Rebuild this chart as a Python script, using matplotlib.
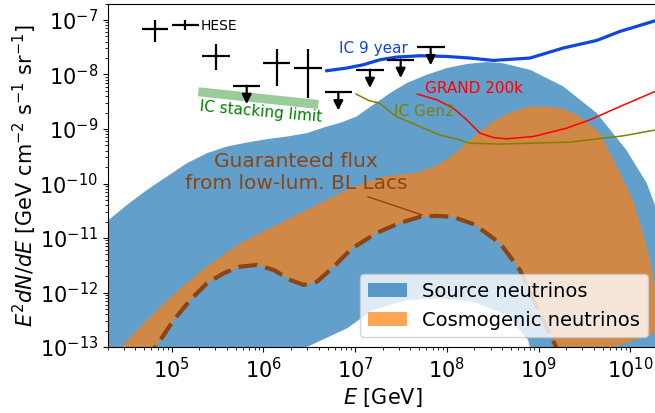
import numpy as np
import matplotlib
matplotlib.use("Agg")
import matplotlib.pyplot as plt
from matplotlib.patches import Patch

# ---------------- data (log10 values) ----------------
# Source neutrino envelope: upper edge
src_up_logE = [4.25, 4.313, 4.513, 4.731, 4.949, 5.167, 5.385, 5.603, 5.821, 6.039, 6.257, 6.475,
               6.694, 6.850, 7.017, 7.198, 7.381, 7.563, 7.781, 7.999, 8.217, 8.435, 8.600, 8.907,
               9.270, 9.635, 9.957, 10.180, 10.35]
src_up_logF = [-10.75, -10.668, -10.392, -10.117, -9.872, -9.626, -9.443, -9.321, -9.248, -9.186,
               -9.138, -9.075, -8.954, -8.880, -8.770, -8.556, -8.341, -8.157, -8.005, -7.882,
               -7.808, -7.771, -7.790, -7.913, -8.219, -8.708, -9.382, -9.994, -10.75]
# Source neutrino envelope: lower edge (right to left)
src_lo_logE = [10.35, 10.35, 9.0, 8.95, 8.886, 8.653, 8.286, 7.926, 7.563, 7.195, 6.912, 6.475, 6.42, 6.35, 4.25]
src_lo_logF = [-10.75, -14.0, -14.0, -13.3, -12.87, -12.412, -12.168, -12.106, -12.137, -12.32, -12.657,
               -13.0, -13.3, -14.0, -14.0]

# Cosmogenic neutrino band: upper edge
cos_up_logE = [4.30, 4.439, 4.658, 4.876, 5.094, 5.312, 5.530, 5.748, 5.966, 6.184, 6.402, 6.621,
               6.912, 7.305, 7.672, 7.850, 7.999, 8.108, 8.217, 8.362, 8.507, 8.653, 8.798, 8.943,
               9.089, 9.234, 9.343, 9.450, 9.668, 9.853, 10.030, 10.139, 10.234, 10.27, 10.35]
cos_up_logF = [-13.25, -13.018, -12.627, -12.260, -11.922, -11.617, -11.342, -11.096, -10.912,
               -10.728, -10.545, -10.361, -10.117, -9.872, -9.80, -9.70, -9.56, -9.42, -9.259,
               -9.046, -8.862, -8.726, -8.635, -8.587, -8.587, -8.616, -8.679, -8.771, -9.071,
               -9.689, -10.300, -10.906, -11.525, -11.89, -12.7]

# Guaranteed flux from low-luminosity BL Lacs (lower edge of cosmogenic band)
bl_logE = [4.70, 4.840, 5.022, 5.203, 5.385, 5.567, 5.748, 5.930, 6.112, 6.293, 6.439, 6.585, 6.767,
           6.912, 6.977, 7.236, 7.490, 7.708, 7.890, 8.068, 8.30, 8.580, 8.798, 8.980, 9.18, 9.30]
bl_logF = [-13.25, -12.963, -12.504, -12.137, -11.830, -11.646, -11.525, -11.494, -11.586, -11.770,
           -11.861, -11.801, -11.525, -11.279, -11.180, -10.906, -10.723, -10.613, -10.594, -10.613,
           -10.75, -11.095, -11.586, -12.26, -12.96, -13.3]

# IceCube 9-year limit
ic9_logE = [6.690, 6.908, 7.089, 7.272, 7.454, 7.708, 7.999, 8.253, 8.507, 8.907, 9.270, 9.635, 9.889, 10.30]
ic9_logF = [-7.931, -7.882, -7.821, -7.729, -7.680, -7.656, -7.669, -7.698, -7.742, -7.698, -7.514,
            -7.375, -7.209, -7.00]

# GRAND 200k sensitivity
grand_logE = [7.678, 7.890, 8.071, 8.217, 8.362, 8.507, 8.653, 8.943, 9.306, 9.561, 9.889, 10.30]
grand_logF = [-8.359, -8.464, -8.617, -8.831, -9.077, -9.157, -9.180, -9.138, -8.985, -8.831, -8.587, -8.29]

# IceCube Gen2 sensitivity
gen2_logE = [7.010, 7.156, 7.265, 7.447, 7.665, 7.917, 8.135, 8.244, 8.571, 8.943, 9.343, 9.925, 10.30]
gen2_logF = [-8.359, -8.482, -8.525, -8.770, -8.923, -9.107, -9.198, -9.259, -9.277, -9.259, -9.240,
             -9.125, -9.01]

# IceCube stacking limit
stack_logE = [5.290, 6.599]
stack_logF = [-8.317, -8.550]

# HESE data points (measured)
hese_logE = [4.818, 5.145, 5.480, 6.145, 6.490]
hese_logElo = [4.673, 5.000, 5.327, 5.999, 6.337]
hese_logEhi = [4.963, 5.300, 5.636, 6.290, 6.636]
hese_logF = [-7.160, -7.086, -7.668, -7.790, -7.882]
hese_logFlo = [-7.411, -7.178, -7.911, -8.206, -8.432]
hese_logFhi = [-6.995, -6.995, -7.435, -7.533, -7.533]
# HESE upper limits
ul_logE = [5.818, 6.817, 7.162, 7.497, 7.824]
ul_logElo = [5.672, 6.672, 7.010, 7.345, 7.672]
ul_logEhi = [5.963, 6.963, 7.310, 7.642, 7.980]
ul_logF = [-8.206, -8.322, -7.911, -7.727, -7.494]

# tick positions
xticks = [1e5, 1e6, 1e7, 1e8, 1e9, 1e10]
yticks = [1e-13, 1e-12, 1e-11, 1e-10, 1e-9, 1e-8, 1e-7]

# ---------------- plot ----------------
plt.rcParams['font.family'] = ['DejaVu Sans']
plt.rcParams['font.size'] = 14

fig = plt.figure(figsize=(6.55, 4.13), dpi=100)
ax = fig.add_axes([0.1643, 0.1598, 0.840, 0.8315])

p10 = lambda a: np.power(10.0, np.asarray(a))

blue = '#1f77b4'
orange = '#ff7f0e'

# source envelope
ax.fill(np.concatenate([p10(src_up_logE), p10(src_lo_logE)]),
        np.concatenate([p10(src_up_logF), p10(src_lo_logF)]),
        color=blue, alpha=0.7, lw=0)
# cosmogenic band
ax.fill(np.concatenate([p10(cos_up_logE), p10(bl_logE)[::-1]]),
        np.concatenate([p10(cos_up_logF), p10(bl_logF)[::-1]]),
        color=orange, alpha=0.7, lw=0)

ax.plot(p10(bl_logE), p10(bl_logF), color='#8b4513', lw=3, ls=(0, (4.5, 2)))

ax.plot(p10(ic9_logE), p10(ic9_logF), color='#0f45e0', lw=2.3)
ax.plot(p10(grand_logE), p10(grand_logF), color='red', lw=1.1)
ax.plot(p10(gen2_logE), p10(gen2_logF), color='olive', lw=1.1)
ax.plot(p10(stack_logE), p10(stack_logF), color='green', lw=6.5, alpha=0.4, solid_capstyle='butt')

# HESE points
E = p10(hese_logE); F = p10(hese_logF)
ax.errorbar(E, F,
            xerr=[E - p10(hese_logElo), p10(hese_logEhi) - E],
            yerr=[F - p10(hese_logFlo), p10(hese_logFhi) - F],
            fmt='none', ecolor='k', elinewidth=1.6)
Eu = p10(ul_logE); Fu = p10(ul_logF)
ax.errorbar(Eu, Fu, xerr=[Eu - p10(ul_logElo), p10(ul_logEhi) - Eu],
            fmt='none', ecolor='k', elinewidth=1.6)
for e, f in zip(Eu, Fu):
    ax.annotate('', xy=(e, f * 0.46), xytext=(e, f),
                arrowprops=dict(arrowstyle='-|>', color='k', lw=1.6,
                                mutation_scale=14, shrinkA=0, shrinkB=0))

# texts
ax.text(10**5.31, 10**-7.11, 'HESE', fontsize=10, va='center', ha='left')
ax.text(10**7.195, 10**-7.52, 'IC 9 year', fontsize=11, color='#0f45e0', ha='center', va='center')
ax.text(10**8.30, 10**-8.262, 'GRAND 200k', fontsize=11, color='red', ha='center', va='center')
ax.text(10**7.76, 10**-8.68, 'IC Gen2', fontsize=11, color='olive', ha='center', va='center')
ax.text(10**5.974, 10**-8.68, 'IC stacking limit', fontsize=11, color='green', ha='center',
        va='center', rotation=-5)
ax.annotate('Guaranteed flux\nfrom low-lum. BL Lacs', xy=(10**7.76, 10**-10.594),
            xytext=(10**6.355, 10**-9.80), fontsize=14.5, color='#8b4513', ha='center', va='center',
            arrowprops=dict(arrowstyle='-', color='#8b4513', lw=1))

ax.set_xscale('log')
ax.set_yscale('log')
ax.set_xticks(xticks)
ax.set_yticks(yticks)
ax.xaxis.set_minor_locator(matplotlib.ticker.LogLocator(base=10, subs=np.arange(2, 10), numticks=12))
ax.xaxis.set_minor_formatter(matplotlib.ticker.NullFormatter())
ax.yaxis.set_minor_locator(matplotlib.ticker.LogLocator(base=10, subs=np.arange(2, 10), numticks=12))
ax.yaxis.set_minor_formatter(matplotlib.ticker.NullFormatter())
ax.set_xlim(2e4, 2e10)
ax.set_ylim(1e-13, 2e-7)
ax.set_xlabel(r'$E$ [GeV]', fontsize=15)
ax.set_ylabel(r'$E^2dN/dE$ [GeV cm$^{-2}$ s$^{-1}$ sr$^{-1}$]', fontsize=15)
ax.xaxis.set_label_coords(0.5, -0.115)
ax.yaxis.set_label_coords(-0.125, 0.5)
ax.tick_params(axis='both', which='major', labelsize=15)

handles = [Patch(facecolor=blue, alpha=0.7, label='Source neutrinos'),
           Patch(facecolor=orange, alpha=0.7, label='Cosmogenic neutrinos')]
ax.legend(handles=handles, loc='lower right', fontsize=14)

fig.savefig('out.png', dpi=100)
